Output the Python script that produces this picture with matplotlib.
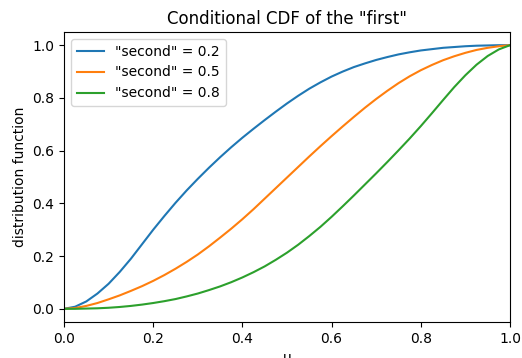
import numpy as np
import matplotlib
matplotlib.use("Agg")
import matplotlib.pyplot as plt

# values (step 0.025 in u)
u = [0.0, 0.025, 0.05, 0.075, 0.1, 0.125, 0.15, 0.175, 0.2, 0.225,
     0.25, 0.275, 0.3, 0.325, 0.35, 0.375, 0.4, 0.425, 0.45, 0.475,
     0.5, 0.525, 0.55, 0.575, 0.6, 0.625, 0.65, 0.675, 0.7, 0.725,
     0.75, 0.775, 0.8, 0.825, 0.85, 0.875, 0.9, 0.925, 0.95, 0.975, 1.0]

cdf_02 = [0.0, 0.008, 0.028, 0.058, 0.095, 0.14, 0.19, 0.245, 0.30, 0.352,
          0.402, 0.449, 0.493, 0.535, 0.575, 0.613, 0.649, 0.683, 0.716, 0.748,
          0.779, 0.808, 0.835, 0.859, 0.881, 0.9, 0.917, 0.931, 0.944, 0.955,
          0.965, 0.973, 0.98, 0.985, 0.99, 0.993, 0.996, 0.998, 0.999, 1.0, 1.0]
cdf_05 = [0.0, 0.003, 0.011, 0.022, 0.036, 0.051, 0.068, 0.086, 0.106, 0.128,
          0.152, 0.178, 0.206, 0.237, 0.27, 0.304, 0.34, 0.378, 0.418, 0.458,
          0.498, 0.538, 0.578, 0.617, 0.655, 0.692, 0.728, 0.763, 0.796, 0.827,
          0.856, 0.882, 0.905, 0.925, 0.943, 0.958, 0.971, 0.982, 0.99, 0.996, 1.0]
cdf_08 = [0.0, 0.0, 0.001, 0.002, 0.004, 0.007, 0.011, 0.016, 0.022, 0.029,
          0.037, 0.047, 0.058, 0.071, 0.085, 0.101, 0.119, 0.139, 0.161, 0.186,
          0.213, 0.243, 0.276, 0.311, 0.349, 0.389, 0.43, 0.472, 0.514, 0.557,
          0.601, 0.646, 0.693, 0.742, 0.792, 0.841, 0.886, 0.926, 0.959, 0.984, 1.0]

second = [0.2, 0.5, 0.8]
curves = [cdf_02, cdf_05, cdf_08]

fig = plt.figure(figsize=(5.22, 3.58), dpi=100)
ax = fig.add_axes([64 / 522, 1 - 322 / 358, 446 / 522, 290 / 358])

for v, y in zip(second, curves):
    ax.plot(u, y, label=f'"second" = {v}')

ax.set_xlim(0, 1)
ax.set_title('Conditional CDF of the "first"')
ax.set_xlabel("u")
ax.set_ylabel("distribution function")
ax.legend(loc="upper left")

fig.savefig("out.png", dpi=100)
